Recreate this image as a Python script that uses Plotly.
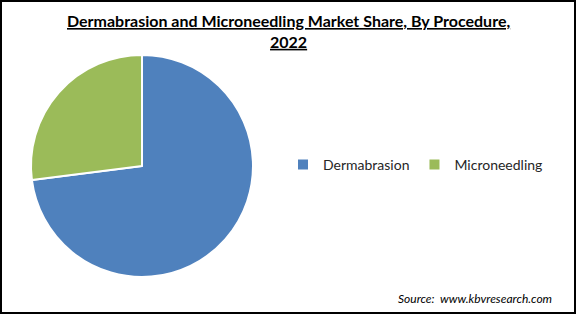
import plotly.graph_objects as go

labels = ["Dermabrasion", "Microneedling"]
values = [73, 27]
colors = ["#4F81BD", "#9BBB59"]

W, H = 576, 314
cx, cy, r = 142, 166, 111

fig = go.Figure(go.Pie(
    labels=labels, values=values, sort=False, direction="clockwise", rotation=0,
    marker=dict(colors=colors, line=dict(color="white", width=2)),
    textinfo="none", hoverinfo="label+percent",
    domain=dict(x=[(cx - r) / W, (cx + r) / W], y=[(H - cy - r) / H, (H - cy + r) / H]),
))

fig.update_layout(
    width=W, height=H, margin=dict(l=0, r=0, t=0, b=0),
    paper_bgcolor="white", plot_bgcolor="white",
    showlegend=True,
    legend=dict(orientation="h", x=283 / W, y=(H - 165) / H, xanchor="left", yanchor="middle",
                font=dict(family="Lato, Open Sans, sans-serif", size=14, color="#262626"),
                itemwidth=30, tracegroupgap=0),
    annotations=[
        dict(text="<b><u>Dermabrasion and Microneedling Market Share, By Procedure,</u></b><br><b><u>2022</u></b>",
             x=0.5, y=1 - 9 / H, xref="paper", yref="paper", xanchor="center", yanchor="top",
             showarrow=False, font=dict(family="Lato, sans-serif", size=16, color="black"), align="center"),
        dict(text="<i>Source:  www.kbvresearch.com</i>", x=554 / W, y=(H - 298) / H, xref="paper", yref="paper",
             xanchor="right", yanchor="middle", showarrow=False,
             font=dict(family="Lato, sans-serif", size=12, color="black")),
    ],
    shapes=[dict(type="rect", xref="paper", yref="paper", x0=1 / W, x1=1 - 1 / W, y0=1 / H, y1=1 - 1 / H,
                 line=dict(color="black", width=2))],
)

fig.write_html("out.html")
